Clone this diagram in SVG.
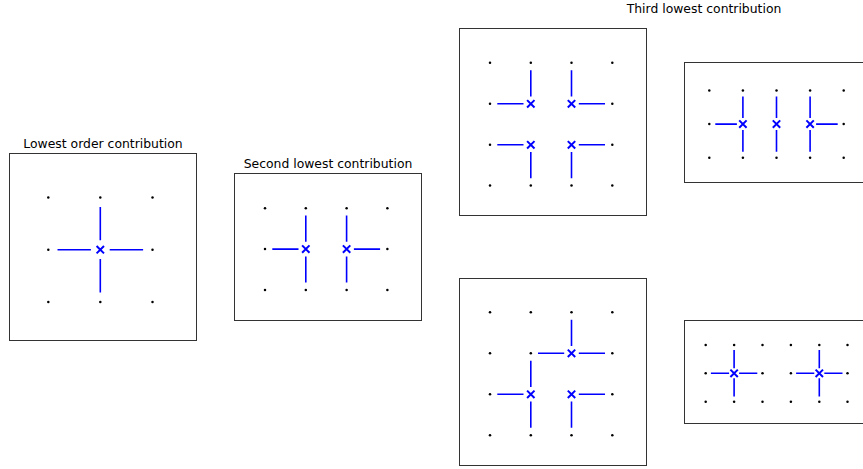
<svg xmlns="http://www.w3.org/2000/svg" xmlns:xlink="http://www.w3.org/1999/xlink" width="863" height="469" viewBox="0 0 863 469">
<style>
.box{fill:#fff;stroke:#333;stroke-width:1}
.t{font-family:"DejaVu Sans",sans-serif;font-size:12.4px;fill:#000;text-anchor:middle}
.arm{stroke:#0000ff;stroke-width:1.6;fill:none}
.d{fill:#000}
.xm{stroke:#0000ff;stroke-width:2;fill:none}
</style>
<defs>
<circle id="dot" r="1.25" class="d"/>
<path id="x" d="M-3.7,-3.7L3.7,3.7M-3.7,3.7L3.7,-3.7" class="xm"/>
</defs>
<rect width="863" height="469" fill="#fff"/>

<g id="panel1">
<text class="t" x="103" y="147.5">Lowest order contribution</text>
<rect class="box" x="9.5" y="153.5" width="187" height="187"/>
<g>
<use href="#dot" x="48.3" y="197.5"/><use href="#dot" x="100.3" y="197.5"/><use href="#dot" x="152.5" y="197.5"/>
<use href="#dot" x="48.3" y="249.7"/><use href="#dot" x="152.5" y="249.7"/>
<use href="#dot" x="48.3" y="302"/><use href="#dot" x="100.3" y="302"/><use href="#dot" x="152.5" y="302"/>
</g>
<path class="arm" d="M100.3 240.3V206.9M100.3 259.1V292.5M90.9 249.7H57.5M109.7 249.7H143.1"/>
<use href="#x" x="100.3" y="249.7"/>
</g>

<g id="panel2">
<text class="t" x="328" y="167.5">Second lowest contribution</text>
<rect class="box" x="234.5" y="173.5" width="187" height="147"/>
<g>
<use href="#dot" x="265" y="208.3"/><use href="#dot" x="305.8" y="208.3"/><use href="#dot" x="346.6" y="208.3"/><use href="#dot" x="387.4" y="208.3"/>
<use href="#dot" x="265" y="249.1"/><use href="#dot" x="387.4" y="249.1"/>
<use href="#dot" x="265" y="289.9"/><use href="#dot" x="305.8" y="289.9"/><use href="#dot" x="346.6" y="289.9"/><use href="#dot" x="387.4" y="289.9"/>
</g>
<path class="arm" d="M298.5 249.1H272.3M305.8 241.8V215.6M305.8 256.4V282.6M353.9 249.1H380.1M346.6 241.8V215.6M346.6 256.4V282.6"/>
<use href="#x" x="305.8" y="249.1"/><use href="#x" x="346.6" y="249.1"/>
</g>

<text class="t" x="704" y="12.5">Third lowest contribution</text>

<g id="panel3">
<rect class="box" x="459.5" y="28.5" width="187" height="187"/>
<g>
<use href="#dot" x="490" y="62.8"/><use href="#dot" x="530.8" y="62.8"/><use href="#dot" x="571.5" y="62.8"/><use href="#dot" x="612.3" y="62.8"/>
<use href="#dot" x="490" y="103.8"/><use href="#dot" x="612.3" y="103.8"/>
<use href="#dot" x="490" y="144.8"/><use href="#dot" x="612.3" y="144.8"/>
<use href="#dot" x="490" y="185.6"/><use href="#dot" x="530.8" y="185.6"/><use href="#dot" x="571.5" y="185.6"/><use href="#dot" x="612.3" y="185.6"/>
</g>
<path class="arm" d="M530.8 96.5V70.3M523.5 103.8H497.3M571.5 96.5V70.3M578.8 103.8H605M523.5 144.8H497.3M530.8 152.1V178.3M578.8 144.8H605M571.5 152.1V178.3"/>
<use href="#x" x="530.8" y="103.8"/><use href="#x" x="571.5" y="103.8"/><use href="#x" x="530.8" y="144.8"/><use href="#x" x="571.5" y="144.8"/>
</g>

<g id="panel4">
<rect class="box" x="684.5" y="62.5" width="187" height="120"/>
<g>
<use href="#dot" x="709.3" y="90.5"/><use href="#dot" x="742.9" y="90.5"/><use href="#dot" x="776.5" y="90.5"/><use href="#dot" x="810.1" y="90.5"/><use href="#dot" x="843.7" y="90.5"/>
<use href="#dot" x="709.3" y="124.1"/><use href="#dot" x="843.7" y="124.1"/>
<use href="#dot" x="709.3" y="157.7"/><use href="#dot" x="742.9" y="157.7"/><use href="#dot" x="776.5" y="157.7"/><use href="#dot" x="810.1" y="157.7"/><use href="#dot" x="843.7" y="157.7"/>
</g>
<path class="arm" d="M736.9 124.1H715.3M742.9 118.1V96.5M742.9 130.1V151.7M776.5 118.1V96.5M776.5 130.1V151.7M810.1 118.1V96.5M810.1 130.1V151.7M816.1 124.1H837.7"/>
<use href="#x" x="742.9" y="124.1"/><use href="#x" x="776.5" y="124.1"/><use href="#x" x="810.1" y="124.1"/>
</g>

<g id="panel5">
<rect class="box" x="459.5" y="278.5" width="187" height="187"/>
<g>
<use href="#dot" x="490" y="312.3"/><use href="#dot" x="530.8" y="312.3"/><use href="#dot" x="571.5" y="312.3"/><use href="#dot" x="612.3" y="312.3"/>
<use href="#dot" x="490" y="353.3"/><use href="#dot" x="530.8" y="353.3"/><use href="#dot" x="612.3" y="353.3"/>
<use href="#dot" x="490" y="394.3"/><use href="#dot" x="612.3" y="394.3"/>
<use href="#dot" x="490" y="435.2"/><use href="#dot" x="530.8" y="435.2"/><use href="#dot" x="571.5" y="435.2"/><use href="#dot" x="612.3" y="435.2"/>
</g>
<path class="arm" d="M571.5 346V319.8M564.2 353.3H538M578.8 353.3H605M530.8 387V360.8M523.5 394.3H497.3M530.8 401.6V427.8M578.8 394.3H605M571.5 401.6V427.8"/>
<use href="#x" x="571.5" y="353.3"/><use href="#x" x="530.8" y="394.3"/><use href="#x" x="571.5" y="394.3"/>
</g>

<g id="panel6">
<rect class="box" x="684.5" y="320.5" width="187" height="103"/>
<g>
<use href="#dot" x="705.7" y="345"/><use href="#dot" x="734.1" y="345"/><use href="#dot" x="762.5" y="345"/><use href="#dot" x="790.9" y="345"/><use href="#dot" x="819.3" y="345"/><use href="#dot" x="847.5" y="345"/>
<use href="#dot" x="705.7" y="373.3"/><use href="#dot" x="762.5" y="373.3"/><use href="#dot" x="790.9" y="373.3"/><use href="#dot" x="847.5" y="373.3"/>
<use href="#dot" x="705.7" y="401.7"/><use href="#dot" x="734.1" y="401.7"/><use href="#dot" x="762.5" y="401.7"/><use href="#dot" x="790.9" y="401.7"/><use href="#dot" x="819.3" y="401.7"/><use href="#dot" x="847.5" y="401.7"/>
</g>
<path class="arm" d="M734.1 368.3V350.1M734.1 378.3V396.5M729.1 373.3H710.9M739.1 373.3H757.3M819.3 368.3V350.1M819.3 378.3V396.5M814.3 373.3H796.1M824.3 373.3H842.5"/>
<use href="#x" x="734.1" y="373.3"/><use href="#x" x="819.3" y="373.3"/>
</g>
</svg>
